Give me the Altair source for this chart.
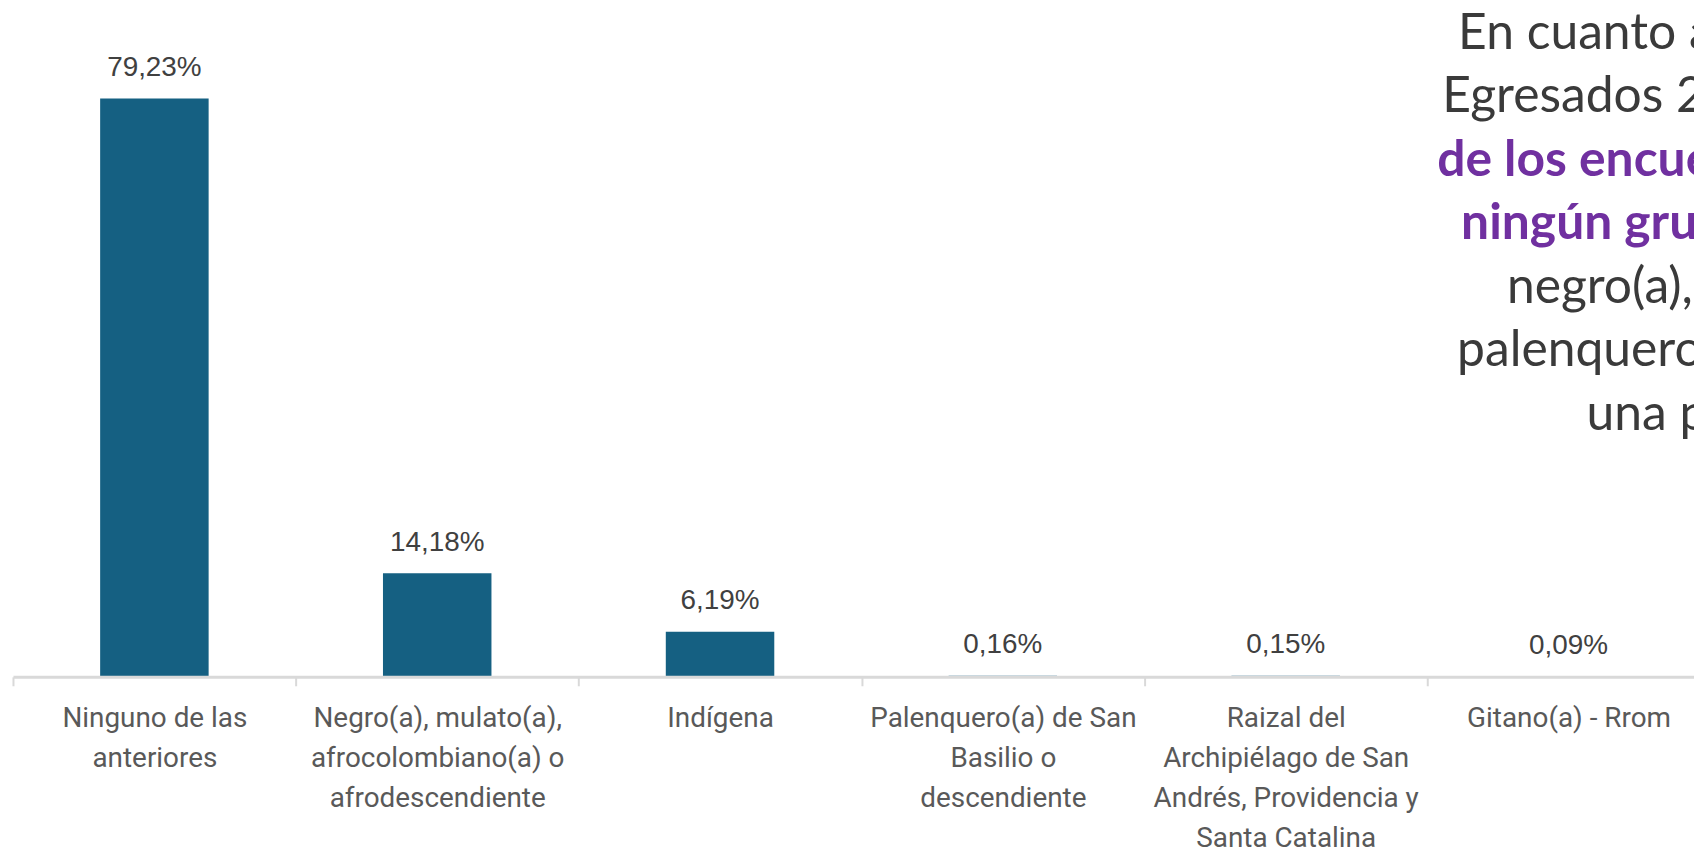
import altair as alt
import pandas as pd

# ---- data ----
categories = [
    "Ninguno de las|anteriores",
    "Negro(a), mulato(a),|afrocolombiano(a) o|afrodescendiente",
    "Indígena",
    "Palenquero(a) de San|Basilio o|descendiente",
    "Raizal del|Archipiélago de San|Andrés, Providencia y|Santa Catalina",
    "Gitano(a) - Rrom",
]
values = [79.23, 14.18, 6.19, 0.16, 0.15, 0.09]
value_labels = [f"{v:.2f}".replace(".", ",") + "%" for v in values]

note_lines = ["En cuanto a", "Egresados 2", "de los encue", "ningún gru",
              "negro(a),", "palenquero", "una p"]
note_bold = [False, False, True, True, False, False, False]

# ---- layout (pixels, plot coordinates) ----
note_x = [1452, 1436, 1431, 1455, 1501, 1451, 1581]
note_y0 = 28.7
note_step = 63.9

df = pd.DataFrame({"category": categories, "value": values, "label": value_labels})

x_enc = alt.X(
    "category:N",
    sort=None,
    scale=alt.Scale(range=[0, 1705], paddingInner=0, paddingOuter=0),
    axis=alt.Axis(
        title=None,
        labelExpr="split(datum.label, '|')",
        labelFont="Roboto",
        labelFontSize=28,
        labelColor="#595959",
        labelLineHeight=40,
        labelBaseline="alphabetic",
        labelPadding=41,
        labelLimit=600,
        labelAngle=0,
        tickBand="extent",
        tickSize=9,
        tickColor="#D9D9D9",
        tickWidth=2,
        domainColor="#D9D9D9",
        domainWidth=3,
        zindex=1,
    ),
)
y_enc = alt.Y("value:Q", scale=alt.Scale(domain=[0, 90]), axis=None)

bars = alt.Chart(df).mark_bar(size=109, color="#156082").encode(x=x_enc, y=y_enc)

labels = alt.Chart(df).mark_text(
    dy=-22.7, baseline="alphabetic", align="center",
    font="Liberation Sans", fontSize=28, color="#404040",
).encode(x=alt.X("category:N", sort=None), y=y_enc, text="label:N")

layers = [bars, labels]
for i, (line, bold) in enumerate(zip(note_lines, note_bold)):
    layers.append(
        alt.Chart(pd.DataFrame({"t": [line]})).mark_text(
            align="left", baseline="alphabetic",
            font="Lato", fontSize=50,
            fontWeight="bold" if bold else "normal",
            color="#7030A0" if bold else "#3A3A3A",
        ).encode(
            x=alt.value(note_x[i]),
            y=alt.value(note_y0 + i * note_step),
            text="t:N",
        )
    )

chart = alt.layer(*layers).properties(
    width=1689,
    height=660,
    autosize=alt.AutoSizeParams(type="none"),
    padding={"left": 5, "top": 10, "right": 0, "bottom": 171},
    background="white",
).configure_view(stroke=None)

chart.save("out.html", embed_options={"renderer": "svg", "actions": False})
